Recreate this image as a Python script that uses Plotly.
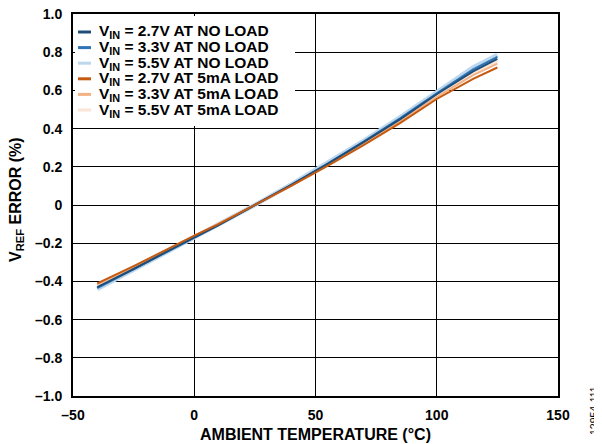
import plotly.graph_objects as go

temps = [-40, -25, -10, 0, 10, 25, 40, 55, 70, 85, 100, 115, 125]

nl_27 = [-0.43, -0.335, -0.235, -0.17, -0.105, 0.0, 0.105, 0.215, 0.33, 0.45, 0.58, 0.70, 0.765]
nl_33 = [-0.435, -0.338, -0.237, -0.171, -0.105, 0.0, 0.106, 0.217, 0.333, 0.455, 0.585, 0.71, 0.775]
nl_55 = [-0.44, -0.34, -0.24, -0.172, -0.106, 0.0, 0.108, 0.22, 0.337, 0.46, 0.59, 0.72, 0.785]
ld_27 = [-0.41, -0.32, -0.225, -0.16, -0.10, 0.0, 0.10, 0.205, 0.315, 0.43, 0.555, 0.66, 0.72]
ld_33 = [-0.415, -0.325, -0.228, -0.163, -0.101, 0.0, 0.102, 0.21, 0.322, 0.44, 0.565, 0.68, 0.74]
ld_55 = [-0.42, -0.328, -0.23, -0.165, -0.102, 0.0, 0.104, 0.213, 0.327, 0.447, 0.572, 0.695, 0.755]

names = [
    "V<sub>IN</sub> = 2.7V AT NO LOAD",
    "V<sub>IN</sub> = 3.3V AT NO LOAD",
    "V<sub>IN</sub> = 5.5V AT NO LOAD",
    "V<sub>IN</sub> = 2.7V AT 5mA LOAD",
    "V<sub>IN</sub> = 3.3V AT 5mA LOAD",
    "V<sub>IN</sub> = 5.5V AT 5mA LOAD",
]
series = [nl_27, nl_33, nl_55, ld_27, ld_33, ld_55]
colors = ["#1f4e79", "#2e75b6", "#bdd7ee", "#c55a11", "#f4b183", "#fbe5d6"]
widths = [2, 2, 4.5, 2, 2, 3]

x_ticks = [-50, 0, 50, 100, 150]
x_ticktext = ["–50", "0", "50", "100", "150"]
y_ticks = [-1.0, -0.8, -0.6, -0.4, -0.2, 0, 0.2, 0.4, 0.6, 0.8, 1.0]
y_ticktext = ["–1.0", "–0.8", "–0.6", "–0.4", "–0.2", "0", "0.2", "0.4", "0.6", "0.8", "1.0"]

x_title = "AMBIENT TEMPERATURE (°C)"
y_title = "V<sub>REF</sub> ERROR (%)"

font_fam = "Arial, Liberation Sans, sans-serif"

# the page body adds an 8px offset; compensate so the plot lands where intended
OFF = 8
W, H = 602 - OFF, 444 - OFF
ML, MR, MT, MB = 73 - OFF, 44, 14 - OFF, 48
PW, PH = W - ML - MR, H - MT - MB

def px_x(p):  # p = pixel in the final 602x444 picture
    return (p - OFF - ML) / PW

def px_y(p):
    return 1 - (p - OFF - MT) / PH

fig = go.Figure()
order = [2, 5, 4, 1, 0, 3]
for i in order:
    fig.add_trace(go.Scatter(
        x=temps, y=series[i], mode="lines", name=names[i],
        line=dict(color=colors[i], width=widths[i]), showlegend=False,
    ))

# legend background box (covers grid lines)
fig.add_shape(type="rect", xref="paper", yref="paper",
              x0=px_x(75), x1=px_x(295), y0=px_y(126), y1=px_y(16),
              fillcolor="white", line=dict(width=0), layer="above")

legend_y0 = 32
legend_dy = 15.6
for k in range(6):
    yc = legend_y0 + k * legend_dy
    fig.add_shape(type="line", xref="paper", yref="paper",
                  x0=px_x(78), x1=px_x(91), y0=px_y(yc), y1=px_y(yc),
                  line=dict(color=colors[k], width=3), layer="above")
    fig.add_annotation(
        text="<b>" + names[k] + "</b>", xref="paper", yref="paper",
        x=px_x(97), y=px_y(yc), xanchor="left", yanchor="middle",
        showarrow=False, font=dict(family=font_fam, size=15.5, color="black"),
    )

fig.update_layout(
    width=W, height=H,
    margin=dict(l=ML, r=MR, t=MT, b=MB),
    paper_bgcolor="white", plot_bgcolor="white",
    font=dict(family=font_fam, size=14, color="black"),
    showlegend=False,
    xaxis=dict(
        range=[-50, 150], tickvals=x_ticks, ticktext=x_ticktext,
        showgrid=True, gridcolor="black", gridwidth=1,
        showline=True, linecolor="black", linewidth=2, mirror=True,
        zeroline=False, ticks="", automargin=False, ticklabelstandoff=5,
        ticklabeloverflow="allow",
        tickfont=dict(size=14, weight="bold"),
    ),
    yaxis=dict(
        range=[-1.0, 1.0], tickvals=y_ticks, ticktext=y_ticktext,
        showgrid=True, gridcolor="black", gridwidth=1,
        showline=True, linecolor="black", linewidth=2, mirror=True,
        zeroline=False, ticks="", automargin=False, ticklabelstandoff=6,
        ticklabeloverflow="allow",
        tickfont=dict(size=14, weight="bold"),
    ),
)

fig.add_annotation(
    text="<b>" + x_title + "</b>", xref="paper", yref="paper",
    x=px_x(315), y=px_y(434), xanchor="center", yanchor="middle",
    showarrow=False, font=dict(family=font_fam, size=16, color="black"),
)
fig.add_annotation(
    text="<b>" + y_title + "</b>", xref="paper", yref="paper",
    x=px_x(16), y=px_y(200), xanchor="center", yanchor="middle",
    textangle=-90, showarrow=False, font=dict(family=font_fam, size=16, color="black"),
)
fig.add_annotation(
    text="12954-111", xref="paper", yref="paper",
    x=px_x(594), y=px_y(411), xanchor="center", yanchor="middle",
    textangle=-90, showarrow=False, font=dict(family=font_fam, size=10.5, color="black"),
)

fig.write_html("out.html")
